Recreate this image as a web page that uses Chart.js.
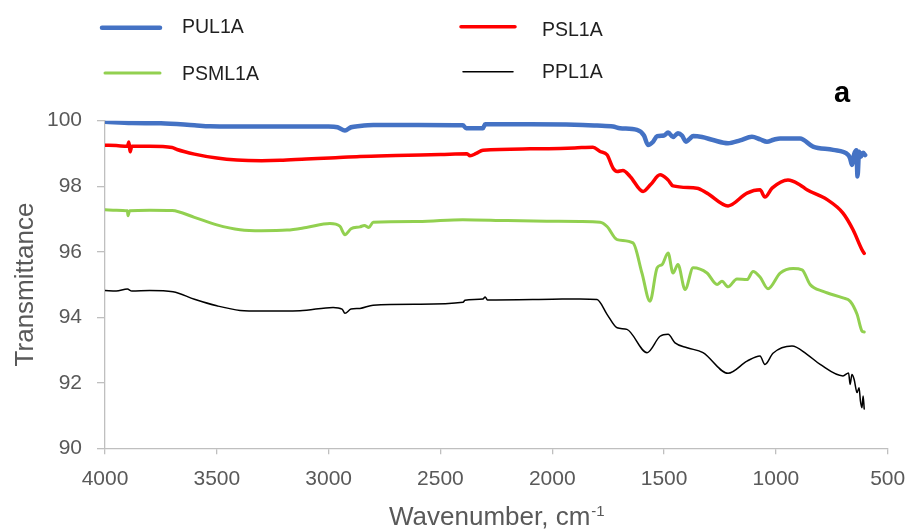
<!DOCTYPE html>
<html>
<head>
<meta charset="utf-8">
<script src="https://cdn.jsdelivr.net/npm/chart.js@4/dist/chart.umd.min.js"></script>
<style>
  html, body { margin: 0; padding: 0; background: #ffffff; }
  canvas { display: block; }
</style>
</head>
<body>
<canvas id="ftir" width="907" height="531"></canvas>
<script>
// FTIR spectra: wavenumber (cm-1) and transmittance (%) for each sample
const pulWn = [4000,3880,3750,3600,3530,3300,3000,2960,2927,2900,2860,2800,2600,2400,2385,2310,2300,2100,1900,1800,1728,1697,1621,1590,1572,1550,1531,1500,1482,1460,1438,1420,1402,1385,1370,1330,1281,1214,1160,1107,1070,1040,1010,981,892,834,744,677,668,660,650,640,635,628,620,610,601];
const pulT  = [99.97,99.93,99.92,99.86,99.83,99.82,99.82,99.80,99.70,99.80,99.84,99.87,99.87,99.86,99.77,99.77,99.89,99.89,99.88,99.85,99.82,99.77,99.72,99.55,99.26,99.35,99.53,99.55,99.64,99.50,99.62,99.55,99.36,99.45,99.53,99.50,99.41,99.31,99.40,99.51,99.43,99.36,99.42,99.46,99.46,99.21,99.11,98.96,98.85,98.65,98.98,99.10,98.30,99.05,98.90,99.02,98.95];

const pslWn = [4000,3950,3900,3893,3888,3880,3800,3700,3678,3600,3500,3410,3300,3217,3100,2994,2860,2700,2500,2381,2368,2340,2310,2100,1900,1818,1786,1755,1728,1710,1684,1652,1594,1560,1518,1482,1460,1353,1308,1214,1129,1071,1049,1017,946,892,861,771,700,655,615,605];
const pslT  = [99.25,99.24,99.22,99.35,99.05,99.22,99.22,99.18,99.12,98.98,98.86,98.80,98.78,98.79,98.83,98.86,98.91,98.94,98.97,98.99,98.93,99.00,99.10,99.14,99.17,99.19,99.06,98.96,98.55,98.45,98.48,98.30,97.84,98.05,98.35,98.19,98.01,97.94,97.79,97.40,97.79,97.89,97.67,97.94,98.19,98.04,97.89,97.59,97.18,96.67,96.06,95.95];

const psmlWn = [4000,3950,3900,3897,3890,3800,3700,3600,3500,3396,3300,3186,3100,2994,2950,2927,2900,2860,2840,2820,2801,2600,2400,2200,2000,1876,1786,1755,1710,1639,1599,1563,1531,1509,1482,1460,1438,1406,1370,1308,1263,1241,1214,1174,1129,1102,1071,1035,981,923,883,847,789,700,668,637,615,605];
const psmlT  = [97.28,97.27,97.25,97.10,97.25,97.27,97.26,97.05,96.82,96.67,96.64,96.66,96.74,96.86,96.78,96.52,96.70,96.76,96.80,96.74,96.90,96.92,96.98,96.95,96.93,96.92,96.90,96.77,96.37,96.27,95.35,94.49,95.51,95.61,95.96,95.35,95.61,94.85,95.51,95.35,95.00,95.10,94.93,95.17,95.15,95.40,95.23,94.87,95.35,95.49,95.45,95.00,94.79,94.59,94.49,94.09,93.58,93.55];

const pplWn = [4000,3950,3900,3880,3800,3696,3600,3500,3396,3300,3128,2980,2940,2927,2900,2860,2801,2600,2399,2390,2310,2300,2290,2000,1876,1800,1755,1710,1666,1576,1518,1482,1451,1397,1326,1214,1129,1071,1049,1013,928,861,802,700,675,668,660,650,637,628,622,615,610,605];
const pplT  = [94.82,94.80,94.86,94.80,94.82,94.78,94.55,94.35,94.21,94.19,94.20,94.30,94.25,94.12,94.25,94.27,94.37,94.40,94.46,94.52,94.56,94.62,94.53,94.55,94.56,94.54,94.09,93.68,93.63,92.92,93.42,93.48,93.22,93.07,92.92,92.29,92.66,92.82,92.56,92.90,93.12,92.87,92.56,92.21,92.30,91.95,92.25,92.10,91.70,91.85,91.45,91.24,91.60,91.20];

const seriesNames  = ['PUL1A', 'PSL1A', 'PSML1A', 'PPL1A'];
const seriesColors = ['#4472C4', '#FF0000', '#92D050', '#000000'];

const xTicks = [4000, 3500, 3000, 2500, 2000, 1500, 1000, 500];
const yTicks = [90, 92, 94, 96, 98, 100];

const FONT = '"Liberation Sans", Arial, sans-serif';
const toPoints = (wn, t) => wn.map((w, i) => ({ x: w, y: t[i] }));

const lineWidths = [4.5, 3.5, 3, 1.5];
const spectra = [[pulWn, pulT], [pslWn, pslT], [psmlWn, psmlT], [pplWn, pplT]];

const datasets = spectra.map(([wn, t], i) => ({
  label: seriesNames[i],
  data: toPoints(wn, t),
  borderColor: seriesColors[i],
  backgroundColor: seriesColors[i],
  borderWidth: lineWidths[i],
  pointRadius: 0,
  cubicInterpolationMode: 'monotone',
  borderJoinStyle: 'round',
  borderCapStyle: 'round',
  fill: false
}));

// Legend (two columns), axis titles and panel letter
const decorations = {
  id: 'decorations',
  afterDraw(chart) {
    const ctx = chart.ctx;
    const area = chart.chartArea;
    ctx.save();

    const legendPos = [
      { x1: 102, x2: 160, y: 27.7, tx: 182, ty: 32.7 },
      { x1: 461, x2: 515, y: 26.7, tx: 542, ty: 35.5 },
      { x1: 105, x2: 160, y: 73,   tx: 182, ty: 80 },
      { x1: 463, x2: 513, y: 71.7, tx: 542, ty: 77.7 }
    ];
    chart.data.datasets.forEach((ds, i) => {
      const p = legendPos[i];
      ctx.strokeStyle = ds.borderColor;
      ctx.lineWidth = ds.borderWidth;
      ctx.lineCap = 'round';
      ctx.beginPath();
      ctx.moveTo(p.x1, p.y);
      ctx.lineTo(p.x2, p.y);
      ctx.stroke();
      ctx.fillStyle = '#1f1f1f';
      ctx.font = '19.5px ' + FONT;
      ctx.textAlign = 'left';
      ctx.textBaseline = 'alphabetic';
      ctx.fillText(ds.label, p.tx, p.ty);
    });

    // panel letter
    ctx.fillStyle = '#000000';
    ctx.font = 'bold 29px ' + FONT;
    ctx.fillText('a', 834, 101.5);

    // y axis title
    ctx.fillStyle = '#595959';
    ctx.font = '26px ' + FONT;
    ctx.save();
    ctx.translate(33, (area.top + area.bottom) / 2);
    ctx.rotate(-Math.PI / 2);
    ctx.textAlign = 'center';
    ctx.fillText('Transmittance', 0, 0);
    ctx.restore();

    // x axis title with superscript unit exponent
    const main = 'Wavenumber, cm';
    const sup = '-1';
    ctx.font = '26px ' + FONT;
    const wMain = ctx.measureText(main).width;
    ctx.font = '15px ' + FONT;
    const wSup = ctx.measureText(sup).width;
    const cx = (area.left + area.right) / 2;
    const x0 = cx - (wMain + wSup) / 2;
    ctx.textAlign = 'left';
    ctx.font = '26px ' + FONT;
    ctx.fillText(main, x0, 525);
    ctx.font = '15px ' + FONT;
    ctx.fillText(sup, x0 + wMain + 1, 516);

    ctx.restore();
  }
};

new Chart(document.getElementById('ftir'), {
  type: 'line',
  data: { datasets },
  options: {
    responsive: false,
    animation: false,
    devicePixelRatio: 1,
    parsing: true,
    layout: { padding: { left: 0, right: 19.3, top: 120.7, bottom: 0 } },
    plugins: {
      legend: { display: false },
      tooltip: { enabled: false },
      title: { display: false }
    },
    scales: {
      x: {
        type: 'linear',
        reverse: true,
        min: 500,
        max: 4000,
        afterBuildTicks(s) { s.ticks = xTicks.map(v => ({ value: v })); },
        afterFit(s) {
          s.height = 531 - 448.3;
          s.paddingLeft = 0;
          s.paddingRight = 0;
        },
        grid: { drawOnChartArea: false, drawTicks: true, tickLength: 6, color: '#bfbfbf', lineWidth: 1.3 },
        border: { display: true, color: '#bfbfbf', width: 1.3 },
        ticks: {
          color: '#595959',
          font: { family: FONT, size: 21 },
          padding: 12,
          maxRotation: 0,
          autoSkip: false,
          callback: v => String(v)
        },
        title: { display: false }
      },
      y: {
        type: 'linear',
        min: 90,
        max: 100,
        afterBuildTicks(s) { s.ticks = yTicks.map(v => ({ value: v })); },
        afterFit(s) {
          s.width = 105;
          s.paddingTop = 0;
          s.paddingBottom = 0;
        },
        grid: { drawOnChartArea: false, drawTicks: true, tickLength: 8, color: '#bfbfbf', lineWidth: 1.3 },
        border: { display: true, color: '#bfbfbf', width: 1.3 },
        ticks: {
          color: '#595959',
          font: { family: FONT, size: 21 },
          padding: 15,
          autoSkip: false,
          callback: v => String(v)
        },
        title: { display: false }
      }
    }
  },
  plugins: [decorations]
});
</script>
</body>
</html>
